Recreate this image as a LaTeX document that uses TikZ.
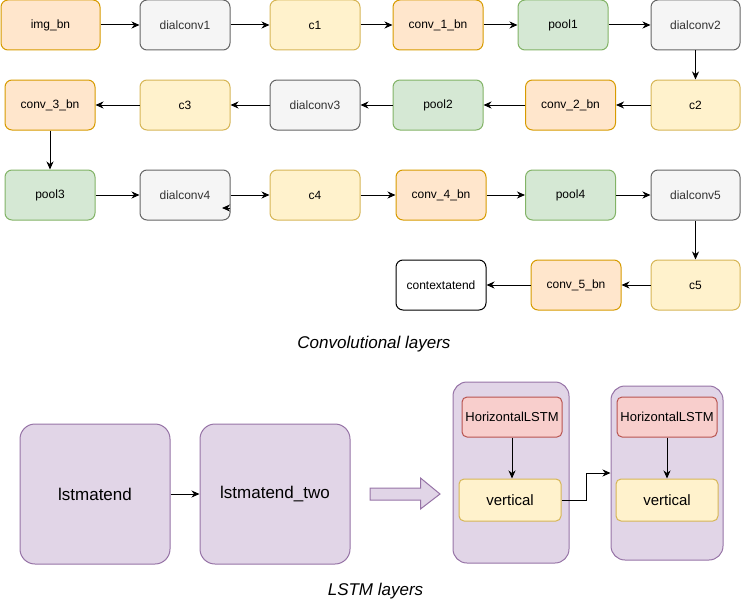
\documentclass[tikz,border=0pt]{standalone}
\usepackage{fontspec}
\setmainfont{Liberation Sans}
\usetikzlibrary{arrows.meta}
\definecolor{orF}{HTML}{FFE6CC}\definecolor{orD}{HTML}{D79B00}
\definecolor{grF}{HTML}{F5F5F5}\definecolor{grD}{HTML}{666666}\definecolor{grT}{HTML}{333333}
\definecolor{yeF}{HTML}{FFF2CC}\definecolor{yeD}{HTML}{D6B656}
\definecolor{gnF}{HTML}{D5E8D4}\definecolor{gnD}{HTML}{82B366}
\definecolor{puF}{HTML}{E1D5E7}\definecolor{puD}{HTML}{9673A6}
\definecolor{reF}{HTML}{F8CECC}\definecolor{reD}{HTML}{B85450}
\tikzset{
  box/.style={rectangle,rounded corners=7pt,minimum width=90pt,minimum height=50pt,line width=1pt,inner sep=0pt,font=\fontsize{12}{14}\selectfont},
  orbox/.style={box,fill=orF,draw=orD},
  grbox/.style={box,fill=grF,draw=grD,text=grT},
  yebox/.style={box,fill=yeF,draw=yeD},
  gnbox/.style={box,fill=gnF,draw=gnD},
  whbox/.style={box,fill=white,draw=black},
  lbox/.style={rectangle,rounded corners=15pt,minimum width=150pt,minimum height=140pt,fill=puF,draw=puD,line width=1pt,font=\fontsize{17}{20}\selectfont},
  cont/.style={rectangle,rounded corners=14pt,fill=puF,draw=puD,line width=1pt},
  hbox/.style={rectangle,rounded corners=5pt,minimum width=100pt,minimum height=40pt,fill=reF,draw=reD,line width=1pt,inner sep=0pt,font=\fontsize{13}{15}\selectfont},
  vbox/.style={rectangle,rounded corners=5pt,minimum width=102pt,minimum height=42pt,fill=yeF,draw=yeD,line width=1pt,inner sep=0pt,font=\fontsize{15}{17}\selectfont},
  arr/.style={line width=1pt,-{Stealth[length=8pt,width=7pt,inset=2.5pt]}},
  captext/.style={font=\fontsize{17}{20}\selectfont\itshape}
}
\begin{document}
\begin{tikzpicture}[x=1pt,y=-1pt]
\useasboundingbox (0,0) rectangle (741,602);
% row 1
\node[orbox,minimum width=99pt] (img) at (50.5,25) {img\_bn};
\node[grbox] (dc1) at (185,25) {dialconv1};
\node[yebox] (c1) at (315,25) {c1};
\node[orbox] (cb1) at (438,25) {conv\_1\_bn};
\node[gnbox] (p1) at (563,25) {pool1};
\node[grbox,minimum width=89pt] (dc2) at (695.5,25) {dialconv2};
% row 2
\node[orbox] (cb3) at (50,105) {conv\_3\_bn};
\node[yebox] (c3) at (185,105) {c3};
\node[grbox] (dc3) at (315,105) {dialconv3};
\node[gnbox] (p2) at (438,105) {pool2};
\node[orbox] (cb2) at (570.5,105) {conv\_2\_bn};
\node[yebox,minimum width=89pt] (c2) at (695.5,105) {c2};
% row 3
\node[gnbox] (p3) at (50,195) {pool3};
\node[grbox] (dc4) at (185,195) {dialconv4};
\node[yebox] (c4) at (315,195) {c4};
\node[orbox] (cb4) at (441,195) {conv\_4\_bn};
\node[gnbox] (p4) at (570.5,195) {pool4};
\node[grbox,minimum width=89pt] (dc5) at (695.5,195) {dialconv5};
% row 4
\node[whbox] (ctx) at (441,285) {contextatend};
\node[orbox] (cb5) at (576,285) {conv\_5\_bn};
\node[yebox,minimum width=89pt] (c5) at (695.5,285) {c5};
% arrows
\draw[arr] (img) -- (dc1);
\draw[arr] (dc1) -- (c1);
\draw[arr] (c1) -- (cb1);
\draw[arr] (cb1) -- (p1);
\draw[arr] (p1) -- (dc2);
\draw[arr] (dc2) -- (c2);
\draw[arr] (c2) -- (cb2);
\draw[arr] (cb2) -- (p2);
\draw[arr] (p2) -- (dc3);
\draw[arr] (dc3) -- (c3);
\draw[arr] (c3) -- (cb3);
\draw[arr] (cb3) -- (p3);
\draw[arr] (p3) -- (dc4);
\draw[arr] (dc4) -- (c4);
\draw[arr] (c4) -- (cb4);
\draw[arr] (cb4) -- (p4);
\draw[arr] (p4) -- (dc5);
\draw[arr] (dc5) -- (c5);
\draw[arr] (c5) -- (cb5);
\draw[arr] (cb5) -- (ctx);
\coordinate (s4) at (230,208);
\coordinate (t4) at (222,208);
\draw[arr] (s4) -- (t4);
\node[captext] (capc) at (374,344) {Convolutional layers};
% LSTM
\node[lbox] (l1) at (95,494) {lstmatend};
\node[lbox] (l2) at (275,494) {lstmatend\_two};
\draw[arr] (l1) -- (l2);
\draw[fill=puF,draw=puD,line width=1pt] (370,488) -- (420.5,488) -- (420.5,478) -- (440,494) -- (420.5,509) -- (420.5,500) -- (370,500) -- cycle;
\node[cont,minimum width=116pt,minimum height=181pt] (C1) at (511,472.5) {};
\node[cont,minimum width=112pt,minimum height=174pt] (C2) at (667,473) {};
\node[hbox] (h1) at (512,417) {HorizontalLSTM};
\node[vbox] (v1) at (510,500) {vertical};
\node[hbox] (h2) at (667,417) {HorizontalLSTM};
\node[vbox] (v2) at (667,500) {vertical};
\draw[arr] (h1.south) -- (h1.south |- v1.north);
\draw[arr] (h2.south) -- (h2.south |- v2.north);
\draw[arr] (v1.east) -- ++(25,0) |- (C2.west);
\node[captext] (capl) at (375.5,591) {LSTM layers};
\end{tikzpicture}
\end{document}
